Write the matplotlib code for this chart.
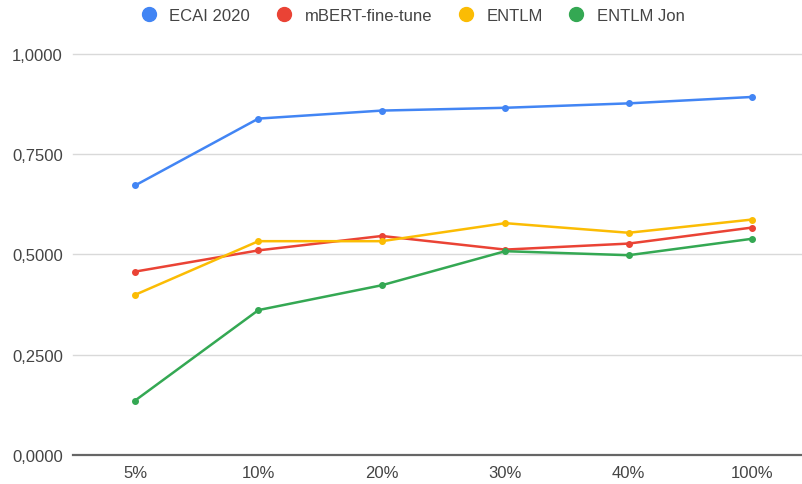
import matplotlib.pyplot as plt
from matplotlib.lines import Line2D
from matplotlib.ticker import FuncFormatter

plt.rcParams['font.family'] = ['Liberation Sans', 'DejaVu Sans']

# ==== Data ====
categories = ["5%", "10%", "20%", "30%", "40%", "100%"]
ecai_2020 = [0.672, 0.839, 0.859, 0.866, 0.877, 0.893]
mbert_fine_tune = [0.457, 0.510, 0.546, 0.512, 0.527, 0.567]
entlm = [0.399, 0.533, 0.533, 0.578, 0.554, 0.587]
entlm_jon = [0.135, 0.361, 0.423, 0.508, 0.498, 0.539]

series = [
    ("ECAI 2020", ecai_2020, "#4285F4"),
    ("mBERT-fine-tune", mbert_fine_tune, "#EA4335"),
    ("ENTLM", entlm, "#FBBC04"),
    ("ENTLM Jon", entlm_jon, "#34A853"),
]

fig = plt.figure(figsize=(8.03, 4.85), dpi=100)
ax = fig.add_axes([0.0905, 0.0604, 0.9095, 0.826])

x = list(range(len(categories)))
for name, vals, color in series:
    ax.plot(x, vals, color=color, lw=1.8, marker="o", ms=4,
            label=name, solid_capstyle="round", zorder=3)

ax.set_ylim(0, 1)
ax.set_xlim(-0.505, 5.413)
ax.set_yticks([0, 0.25, 0.5, 0.75, 1.0])
ax.yaxis.set_major_formatter(FuncFormatter(lambda v, p: f"{v:.4f}".replace(".", ",")))
ax.set_xticks(x)
ax.set_xticklabels(categories)

# horizontal gridlines, darker baseline at zero
for v in [0.25, 0.5, 0.75, 1.0]:
    ax.axhline(v, color="#d9d9d9", lw=1.0, zorder=1, clip_on=False)
ax.axhline(0, color="#666666", lw=1.6, zorder=2, clip_on=False)

for s in ax.spines.values():
    s.set_visible(False)
ax.tick_params(axis="both", length=0, labelsize=12, colors="#444444")
ax.tick_params(axis="x", pad=7.5)
ax.tick_params(axis="y", pad=7)

handles = [Line2D([], [], ls="none", marker="o", ms=10, color=c) for _, _, c in series]
fig.legend(handles, [n for n, _, _ in series], loc="center",
           bbox_to_anchor=(0.514, 0.966), ncol=4, frameon=False,
           fontsize=12, labelcolor="#444444", handletextpad=0.74,
           columnspacing=1.52, handlelength=1.0, borderpad=0.2)

fig.savefig("out.png", dpi=100)
